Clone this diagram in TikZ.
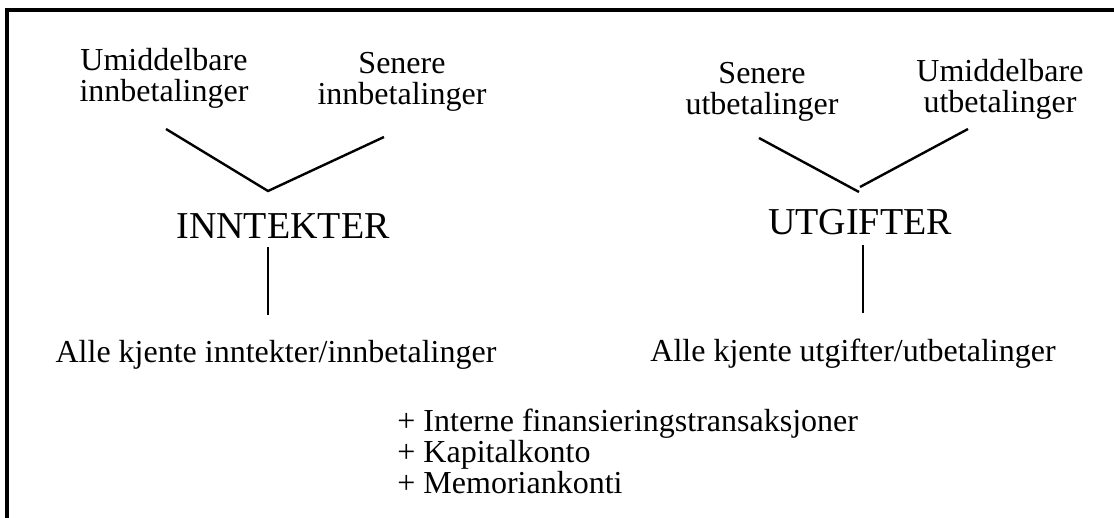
\documentclass[tikz,border=0pt]{standalone}
\usepackage{fontspec}
\setmainfont{Liberation Serif}
\usepackage{tikz}

\begin{document}
\begin{tikzpicture}[x=.5pt,y=-.5pt,font=\fontsize{16}{15.5}\selectfont]
\tikzset{lbl/.style={inner sep=0pt,anchor=base,align=center},
 head/.style={lbl,font=\fontsize{19}{19}\selectfont},
 link/.style={line width=1.2pt}}
\useasboundingbox (0,0) rectangle (1114,518);
\draw[line width=1.8pt] (7,518)--(7,10)--(1114,10);
% inntekter side
\node[lbl] (umInn) at (164,102) {Umiddelbare\\innbetalinger};
\node[lbl] (senInn) at (402,105) {Senere\\innbetalinger};
\node[head] (inn) at (283,239) {INNTEKTER};
\node[lbl] (alleInn) at (276,363) {Alle kjente inntekter/innbetalinger};
\coordinate (inA) at (166,129);\coordinate (inV) at (268,191);\coordinate (inB) at (384,137);
\coordinate (inT) at (268,247);\coordinate (inU) at (268,315);
\draw[link] (inA)--(inV)--(inB);
\draw[link] (inT)--(inU);
% utgifter side
\node[lbl] (senUt) at (762,115) {Senere\\utbetalinger};
\node[lbl] (umUt) at (1000,113) {Umiddelbare\\utbetalinger};
\node[head] (ut) at (860,235) {UTGIFTER};
\node[lbl] (alleUt) at (853,362) {Alle kjente utgifter/utbetalinger};
\coordinate (utA) at (759,138);\coordinate (utV) at (859,192);
\coordinate (utC) at (860,187);\coordinate (utB) at (968,129);
\coordinate (utT) at (863,245);\coordinate (utU) at (863,313);
\draw[link] (utA)--(utV);
\draw[link] (utC)--(utB);
\draw[link] (utT)--(utU);
% tillegg
\node[lbl,anchor=base west,align=left] (extra) at (397,493)
 {+ Interne finansieringstransaksjoner\\+ Kapitalkonto\\+ Memoriankonti};
\end{tikzpicture}
\end{document}
